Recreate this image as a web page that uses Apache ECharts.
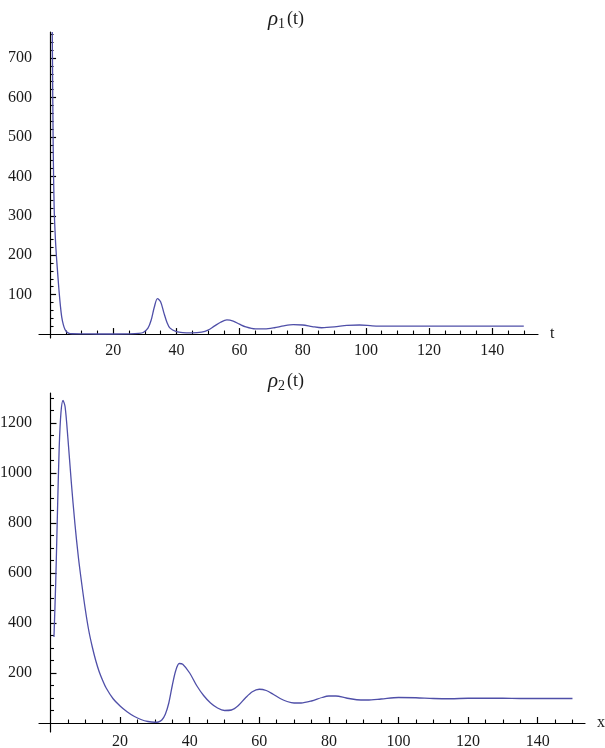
<!DOCTYPE html>
<html>
<head>
<meta charset="utf-8">
<script src="https://cdn.jsdelivr.net/npm/echarts@6/dist/echarts.min.js"></script>
<style>
  html, body { margin: 0; padding: 0; background: #fff; }
  #main { width: 605px; height: 748px; }
</style>
</head>
<body>
<div id="main"></div>
<script>
// rho1(t)
var t1 = [0.7, 1, 1.3, 1.7, 2.1, 2.5, 2.9, 3.3, 3.7, 4.2,
          4.7, 5.2, 6, 7, 10, 15, 20, 25, 28, 29.5,
          31, 32, 33, 34, 35, 36, 37, 38, 40, 42,
          45, 48, 50, 52, 54, 56, 58, 60, 62, 65,
          68, 71, 74, 77, 80, 83, 86, 90, 94, 98,
          102, 106, 110, 115, 120, 125, 130, 135, 140, 145, 150];
var rho1 = [766, 470, 320, 240, 188, 145, 104, 70, 43, 24,
            12, 6, 2, 0.8, 0.3, 0.2, 0.2, 0.5, 1.5, 4,
            15, 35, 68, 90, 82, 55, 30, 15, 6, 3.5,
            3, 5, 10, 20, 30, 36, 33, 25, 18, 13,
            13, 16, 21, 24, 23, 19, 16, 18, 22, 23,
            21, 20, 20, 20, 20, 20, 20, 20, 20, 20, 20];

// rho2(t)
var t2 = [1, 1.5, 2, 2.5, 3, 3.6, 4.2, 5, 6, 7,
          8, 9, 10, 11, 12, 13, 14, 15, 16, 18,
          20, 22, 24, 26, 28, 30, 31, 32, 33, 34,
          35, 36, 37, 38, 40, 42, 44, 46, 48, 50,
          52, 54, 56, 58, 60, 62, 64, 66, 68, 70,
          72, 75, 78, 80, 82, 85, 88, 91, 95, 100,
          105, 110, 115, 120, 125, 130, 135, 140, 145, 150];
var rho2 = [344, 560, 840, 1100, 1240, 1290, 1265, 1140, 960, 800,
            665, 555, 455, 370, 305, 250, 205, 170, 140, 97,
            68, 45, 27, 14, 6, 3, 4, 12, 35, 80,
            150, 210, 238, 235, 200, 150, 110, 80, 60, 50,
            52, 70, 100, 125, 135, 130, 115, 98, 86, 80,
            80, 88, 102, 108, 108, 100, 93, 92, 96, 102,
            101, 98, 97, 99, 99, 99, 98, 98, 98, 98];

// tick labels
var xMajor = [20, 40, 60, 80, 100, 120, 140];
var xMinor = [5, 10, 15, 25, 30, 35, 45, 50, 55, 65, 70, 75, 85, 90, 95, 105, 110, 115, 125, 130, 135, 145, 150];
var y1Major = [100, 200, 300, 400, 500, 600, 700];
var y1Minor = [20, 40, 60, 80, 120, 140, 160, 180, 220, 240, 260, 280, 320, 340, 360, 380,
               420, 440, 460, 480, 520, 540, 560, 580, 620, 640, 660, 680, 720, 740, 760];
var y2Major = [200, 400, 600, 800, 1000, 1200];
var y2Minor = [50, 100, 150, 250, 300, 350, 450, 500, 550, 650, 700, 750, 850, 900, 950,
               1050, 1100, 1150, 1250, 1300];

function pairs(xs, ys) {
    var out = [];
    for (var i = 0; i < xs.length; i++) out.push([xs[i], ys[i]]);
    return out;
}

var labelFont = {
    fontFamily: 'Liberation Serif',
    fontSize: 16,
    color: '#1a1a1a',
    formatter: function (v) { return String(v); }
};
var lineColor = '#4f4fa8';

function majorX(grid, min, max, yIdx, name, margin) {
    return {
        gridIndex: grid, type: 'value', min: min, max: max, position: 'bottom',
        name: name, nameLocation: 'end', nameGap: 12,
        nameTextStyle: { fontFamily: 'Liberation Serif', fontSize: 16, color: '#1a1a1a' },
        axisLine: { onZero: true, onZeroAxisIndex: yIdx, lineStyle: { color: '#000', width: 1.2 } },
        axisTick: { inside: true, length: 6, customValues: xMajor, lineStyle: { color: '#000', width: 1.2 } },
        axisLabel: Object.assign({ customValues: xMajor, margin: margin }, labelFont),
        splitLine: { show: false }
    };
}
function minorX(grid, min, max, yIdx) {
    return {
        gridIndex: grid, type: 'value', min: min, max: max, position: 'bottom',
        axisLine: { show: false, onZero: true, onZeroAxisIndex: yIdx },
        axisTick: { inside: true, length: 3.5, customValues: xMinor, lineStyle: { color: '#000', width: 1.1 } },
        axisLabel: { show: false },
        splitLine: { show: false }
    };
}
function majorY(grid, min, max, xIdx, ticks) {
    return {
        gridIndex: grid, type: 'value', min: min, max: max, position: 'left',
        axisLine: { onZero: true, onZeroAxisIndex: xIdx, lineStyle: { color: '#000', width: 1.2 } },
        axisTick: { inside: true, length: 6, customValues: ticks, lineStyle: { color: '#000', width: 1.2 } },
        axisLabel: Object.assign({ customValues: ticks, margin: 7 }, labelFont),
        splitLine: { show: false }
    };
}
function minorY(grid, min, max, xIdx, ticks) {
    return {
        gridIndex: grid, type: 'value', min: min, max: max, position: 'left',
        axisLine: { show: false, onZero: true, onZeroAxisIndex: xIdx },
        axisTick: { inside: true, length: 3.5, customValues: ticks, lineStyle: { color: '#000', width: 1.1 } },
        axisLabel: { show: false },
        splitLine: { show: false }
    };
}

var titleRich = {
    r: { fontFamily: 'Liberation Serif', fontStyle: 'italic', fontWeight: 'normal', fontSize: 21, color: '#1a1a1a' },
    s: { fontFamily: 'Liberation Serif', fontWeight: 'normal', fontSize: 14, color: '#1a1a1a', padding: [10, 2, 0, 0] },
    n: { fontFamily: 'Liberation Serif', fontWeight: 'normal', fontSize: 18, color: '#1a1a1a' }
};

var myChart = echarts.init(document.getElementById('main'));
var option = {
    backgroundColor: '#fff',
    animation: false,
    title: [
        { text: '{r|ρ}{s|1}{n|(t)}', left: 263, top: 2, textStyle: { fontWeight: 'normal', rich: titleRich } },
        { text: '{r|ρ}{s|2}{n|(t)}', left: 263, top: 364, textStyle: { fontWeight: 'normal', rich: titleRich } }
    ],
    grid: [
        { left: 39, top: 32, width: 499, height: 306, outerBoundsMode: 'none' },
        { left: 39, top: 393, width: 546, height: 339, outerBoundsMode: 'none' }
    ],
    xAxis: [
        majorX(0, -3.5, 154.5, 0, 't', 5),
        minorX(0, -3.5, 154.5, 0),
        majorX(1, -3.3, 153.6, 2, 'x', 2),
        minorX(1, -3.3, 153.6, 2)
    ],
    yAxis: [
        majorY(0, -10, 766, 0, y1Major),
        minorY(0, -10, 766, 0, y1Minor),
        majorY(1, -36, 1320, 2, y2Major),
        minorY(1, -36, 1320, 2, y2Minor)
    ],
    series: [
        {
            name: 'rho1', type: 'line', xAxisIndex: 0, yAxisIndex: 0,
            data: pairs(t1, rho1), showSymbol: false, smooth: 0.3,
            lineStyle: { color: lineColor, width: 1.3 }
        },
        {
            name: 'rho2', type: 'line', xAxisIndex: 2, yAxisIndex: 2,
            data: pairs(t2, rho2), showSymbol: false, smooth: 0.3,
            lineStyle: { color: lineColor, width: 1.3 }
        }
    ]
};
myChart.setOption(option);
</script>
</body>
</html>
